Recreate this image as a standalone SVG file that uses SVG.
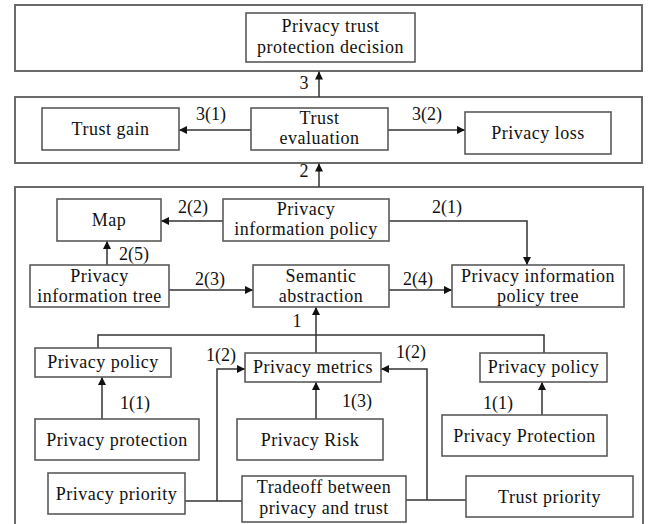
<svg xmlns="http://www.w3.org/2000/svg" width="649" height="524" viewBox="0 0 649 524">
<style>
.frame{fill:none;stroke:#6a6a6a;stroke-width:2}
.box{fill:#fff;stroke:#5a5a5a;stroke-width:1.6}
.t{font-family:"Liberation Serif","Times New Roman",serif;font-size:18px;letter-spacing:0.5px;fill:#111;text-anchor:middle}
.lbl{font-family:"Liberation Serif","Times New Roman",serif;font-size:18px;fill:#111;text-anchor:middle}
.c{fill:none;stroke:#333;stroke-width:1.5}
.a{marker-end:url(#ah)}
</style>
<defs>
<marker id="ah" viewBox="0 0 10 10" refX="10" refY="5" markerWidth="10" markerHeight="8" orient="auto" markerUnits="userSpaceOnUse">
<path d="M0,0 L10,5 L0,10 z" fill="#111"/>
</marker>
</defs>
<rect fill="#fff" width="649" height="524"/>
<g id="layer-decision"><rect class="frame" x="15" y="5" width="627" height="66"/></g>
<g id="layer-evaluation"><rect class="frame" x="15" y="97" width="627" height="66"/></g>
<g id="layer-information"><rect class="frame" x="15" y="187" width="628" height="345"/></g>

<g id="connectors">
<path class="c a" d="M319,97 V71.5"/>
<path class="c a" d="M251,130 H179"/>
<path class="c a" d="M388,130 H465"/>
<path class="c a" d="M319,187 V163.5"/>
<path class="c a" d="M223,221 H161"/>
<path class="c a" d="M389,221 H527 V265"/>
<path class="c a" d="M107,265 V241"/>
<path class="c a" d="M169,290 H253"/>
<path class="c a" d="M389,290 H452"/>
<path class="c a" d="M316,353 V307"/>
<path class="c" d="M98,348 V335 H544 V353"/>
<path class="c" d="M185,501 H242"/>
<path class="c a" d="M217,501 V369 H245"/>
<path class="c" d="M406,500 H466"/>
<path class="c a" d="M427,500 V369 H381"/>
<path class="c a" d="M102,419 V377"/>
<path class="c a" d="M316,419 V382"/>
<path class="c a" d="M542,415 V382"/>
<text class="lbl" x="304" y="89">3</text>
<text class="lbl" x="211" y="120">3(1)</text>
<text class="lbl" x="427" y="120">3(2)</text>
<text class="lbl" x="304" y="177">2</text>
<text class="lbl" x="193" y="213">2(2)</text>
<text class="lbl" x="447" y="213">2(1)</text>
<text class="lbl" x="134" y="260">2(5)</text>
<text class="lbl" x="210" y="285">2(3)</text>
<text class="lbl" x="418" y="285">2(4)</text>
<text class="lbl" x="297" y="327">1</text>
<text class="lbl" x="221" y="361">1(2)</text>
<text class="lbl" x="411" y="358">1(2)</text>
<text class="lbl" x="135" y="409">1(1)</text>
<text class="lbl" x="498" y="409">1(1)</text>
<text class="lbl" x="357" y="407">1(3)</text>
</g>

<g id="n-decision"><rect class="box" x="246" y="13" width="169" height="49"/><text class="t" x="330.5" y="32">Privacy trust</text><text class="t" x="330.5" y="53">protection decision</text></g>
<g id="n-trust-gain"><rect class="box" x="42" y="108" width="137" height="42"/><text class="t" x="110.5" y="135">Trust gain</text></g>
<g id="n-trust-eval"><rect class="box" x="251" y="108" width="137" height="42"/><text class="t" x="319.5" y="124">Trust</text><text class="t" x="319.5" y="144">evaluation</text></g>
<g id="n-privacy-loss"><rect class="box" x="465" y="112" width="146" height="42"/><text class="t" x="538" y="139">Privacy loss</text></g>

<g id="n-map"><rect class="box" x="57" y="199" width="104" height="42"/><text class="t" x="109" y="226">Map</text></g>
<g id="n-pip"><rect class="box" x="223" y="199" width="166" height="42"/><text class="t" x="306" y="215">Privacy</text><text class="t" x="306" y="235">information policy</text></g>
<g id="n-pit"><rect class="box" x="30" y="265" width="139" height="42"/><text class="t" x="99.5" y="282">Privacy</text><text class="t" x="99.5" y="302">information tree</text></g>
<g id="n-sa"><rect class="box" x="253" y="265" width="136" height="42"/><text class="t" x="321" y="282">Semantic</text><text class="t" x="321" y="302">abstraction</text></g>
<g id="n-pipt"><rect class="box" x="452" y="265" width="172" height="42"/><text class="t" x="538" y="282">Privacy information</text><text class="t" x="538" y="302">policy tree</text></g>

<g id="n-policy-left"><rect class="box" x="35" y="348" width="136" height="29"/><text class="t" x="103" y="368">Privacy policy</text></g>
<g id="n-metrics"><rect class="box" x="245" y="353" width="136" height="29"/><text class="t" x="313" y="373">Privacy metrics</text></g>
<g id="n-policy-right"><rect class="box" x="480" y="353" width="127" height="29"/><text class="t" x="543.5" y="373">Privacy policy</text></g>
<g id="n-protection-left"><rect class="box" x="35" y="419" width="164" height="41"/><text class="t" x="117" y="446">Privacy protection</text></g>
<g id="n-risk"><rect class="box" x="237" y="419" width="146" height="41"/><text class="t" x="310" y="446">Privacy Risk</text></g>
<g id="n-protection-right"><rect class="box" x="442" y="415" width="165" height="41"/><text class="t" x="524.5" y="442">Privacy Protection</text></g>
<g id="n-privacy-priority"><rect class="box" x="48" y="473" width="137" height="41"/><text class="t" x="116.5" y="500">Privacy priority</text></g>
<g id="n-tradeoff"><rect class="box" x="242" y="476" width="164" height="46"/><text class="t" x="324" y="493">Tradeoff between</text><text class="t" x="324" y="514">privacy and trust</text></g>
<g id="n-trust-priority"><rect class="box" x="466" y="476" width="167" height="41"/><text class="t" x="549.5" y="503">Trust priority</text></g>
</svg>
